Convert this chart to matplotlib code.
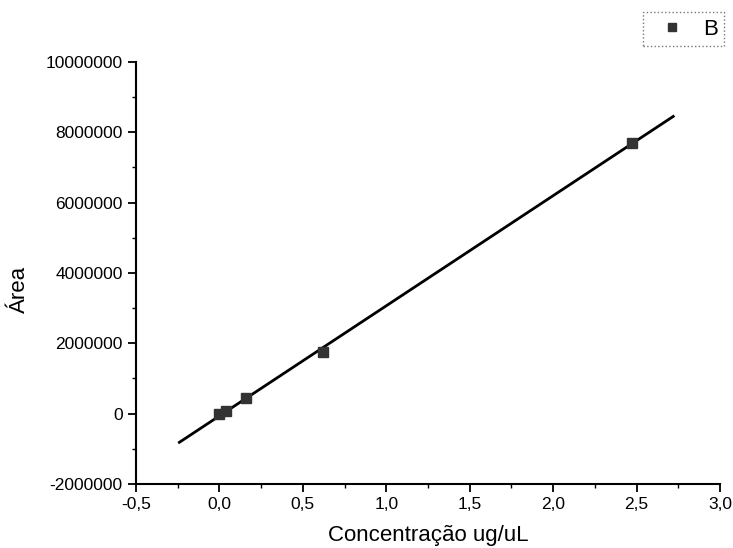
import numpy as np
import matplotlib.pyplot as plt
from matplotlib.ticker import FuncFormatter, MultipleLocator

# calibration points
conc = [0.0, 0.04, 0.16, 0.62, 2.47]
area = [0, 80000, 450000, 1750000, 7700000]
fit_range = [-0.24, 2.72]

plt.rcParams['font.family'] = ['Liberation Sans', 'DejaVu Sans']

fig = plt.figure(figsize=(7.33, 5.48), dpi=100)
ax = fig.add_axes([0.1855, 0.1168, 0.7967, 0.7701])

# linear fit
slope, intercept = np.polyfit(conc, area, 1)
xf = np.array(fit_range)
ax.plot(xf, slope * xf + intercept, color='black', lw=2.0, zorder=2)
ax.plot(conc, area, 's', color='#333333', ms=7, ls='none', label='B', zorder=3)

ax.set_xlim(-0.5, 3.0)
ax.set_ylim(-2000000, 10000000)
ax.xaxis.set_major_locator(MultipleLocator(0.5))
ax.xaxis.set_minor_locator(MultipleLocator(0.25))
ax.yaxis.set_major_locator(MultipleLocator(2000000))
ax.yaxis.set_minor_locator(MultipleLocator(1000000))
ax.xaxis.set_major_formatter(FuncFormatter(lambda v, p: f"{v:.1f}".replace('.', ',')))
ax.yaxis.set_major_formatter(FuncFormatter(lambda v, p: f"{int(v)}"))

for s in ['top', 'right']:
    ax.spines[s].set_visible(False)
for s in ['left', 'bottom']:
    ax.spines[s].set_linewidth(1.5)
ax.tick_params(which='major', length=6, width=1.3, labelsize=12.5)
ax.tick_params(which='minor', length=3, width=1.0)

ax.set_xlabel('Concentração ug/uL', fontsize=16, va='center')
ax.xaxis.set_label_coords(0.5, -0.121)
ax.set_ylabel('Área', fontsize=16, va='center')
ax.yaxis.set_label_coords(-0.199, 0.46)

leg = fig.legend(loc='upper left', bbox_to_anchor=(0.877, 0.978), fontsize=16,
                 handlelength=2.0, handletextpad=0.4, borderpad=0.3,
                 borderaxespad=0, fancybox=False, frameon=True, markerscale=0.8)
leg.get_frame().set_edgecolor('#555555')
leg.get_frame().set_linestyle(':')
leg.get_frame().set_linewidth(1.0)

fig.savefig('out.png', dpi=100)
